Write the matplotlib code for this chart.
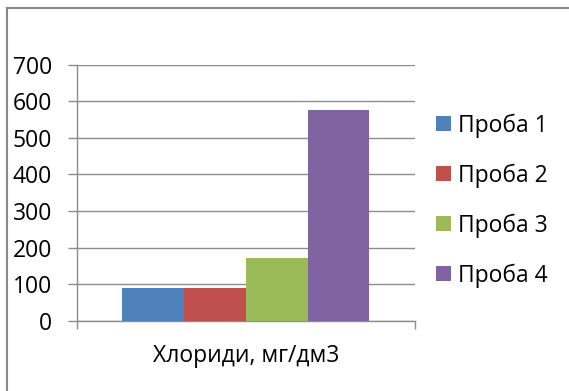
import matplotlib.pyplot as plt
from matplotlib.lines import Line2D

category = "Хлориди, мг/дм3"
series = ["Проба 1", "Проба 2", "Проба 3", "Проба 4"]
values = [90, 90, 172, 577]
colors = ["#4F81BD", "#C0504D", "#9BBB59", "#8064A2"]
yticks = [0, 100, 200, 300, 400, 500, 600, 700]

plt.rcParams['font.family'] = ['Open Sans', 'DejaVu Sans']
grey = "#8c8c8c"
fsize = 16.5

fig = plt.figure(figsize=(5.69, 3.91), dpi=100)
ax = fig.add_axes([0.1348, 0.1795, 0.5946, 0.655])

width = 0.1825
for i, (name, val, col) in enumerate(zip(series, values, colors)):
    ax.bar((i - 1.5) * width, val, width=width, color=col, label=name, zorder=3)

ax.set_xlim(-0.5, 0.5)
ax.set_ylim(0, 700)
ax.set_yticks(yticks)
ax.yaxis.grid(True, color=grey, linewidth=1.0, zorder=0)
ax.set_axisbelow(True)

# category label as a major tick, boundary marks as minor ticks
ax.set_xticks([0], labels=[category])
ax.set_xticks([-0.5, 0.5], minor=True)
ax.tick_params(axis='x', which='major', length=0, pad=17, labelsize=fsize)
ax.tick_params(axis='x', which='minor', length=6, width=1.0, color=grey)
ax.tick_params(axis='y', length=6.3, width=1.0, color=grey, pad=11.5, labelsize=fsize)

for side in ['top', 'right']:
    ax.spines[side].set_visible(False)
for side in ['left', 'bottom']:
    ax.spines[side].set_color(grey)
    ax.spines[side].set_linewidth(1.0)

fig.legend(loc='center left', bbox_to_anchor=(436 / 569, 0.4875),
           frameon=False, fontsize=fsize, borderpad=0, borderaxespad=0,
           handlelength=0.66, handleheight=0.66, handletextpad=0.3,
           labelspacing=1.12)

# outer frame (only top and left edges fall inside the image)
fig.add_artist(Line2D([7 / 569, 7 / 569], [0, 1 - 7.5 / 391],
                      transform=fig.transFigure, color="#888888", linewidth=1.5))
fig.add_artist(Line2D([7 / 569, 1], [1 - 7.5 / 391, 1 - 7.5 / 391],
                      transform=fig.transFigure, color="#888888", linewidth=1.5))

fig.savefig("out.png", dpi=100)
